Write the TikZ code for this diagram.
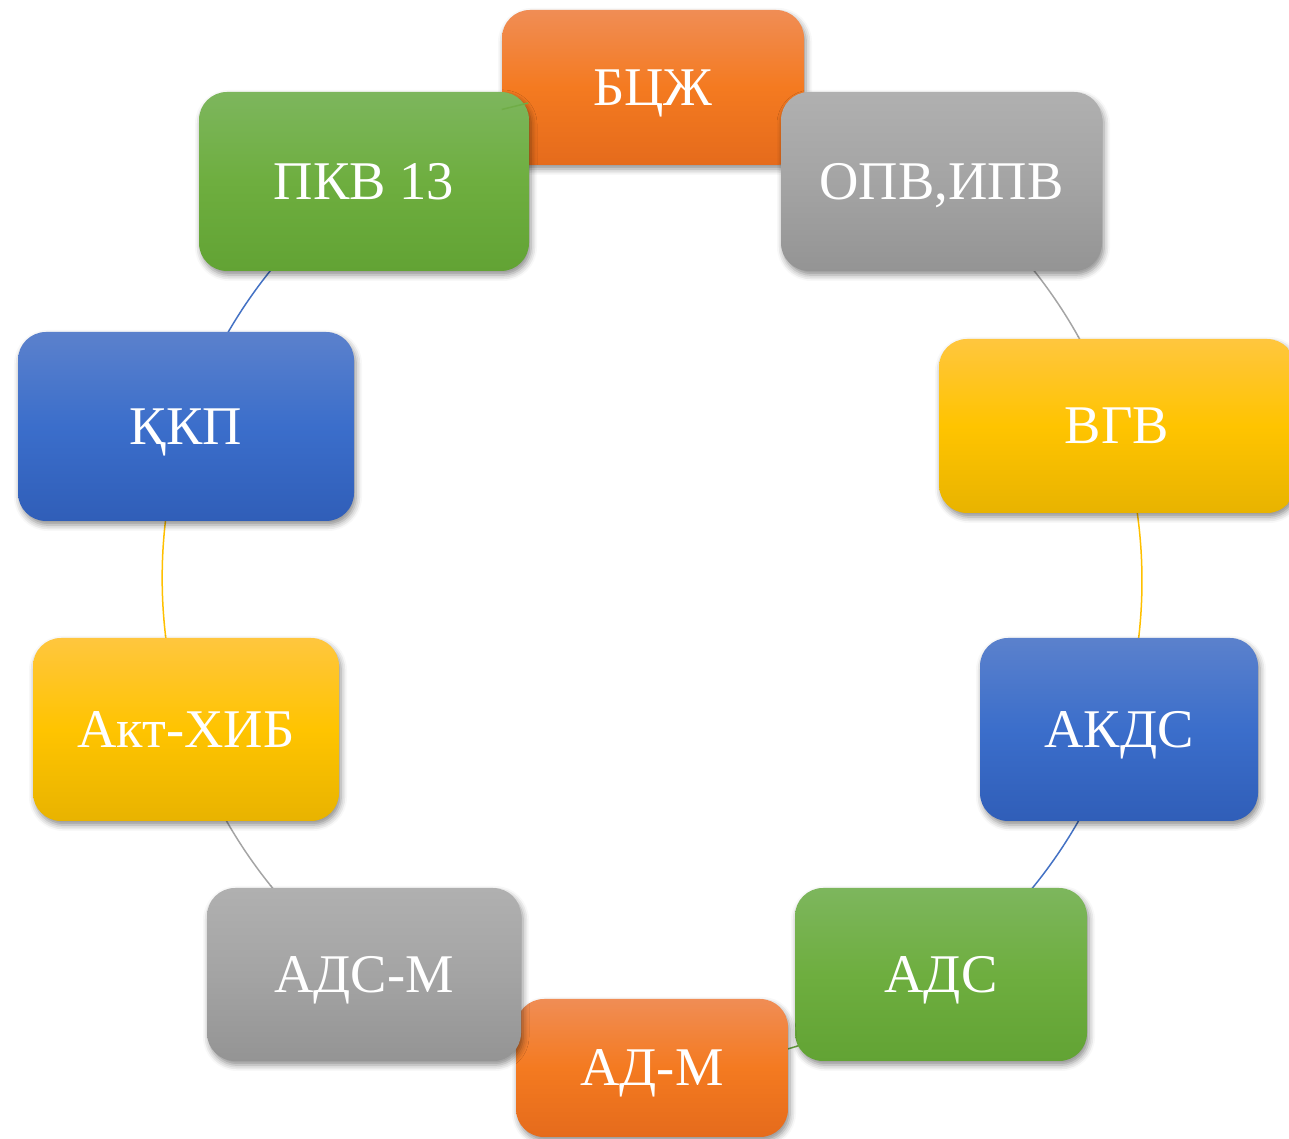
\documentclass[tikz,border=0pt]{standalone}
\usepackage{fontspec}
\setmainfont{Liberation Serif}
\usetikzlibrary{shadows.blur,backgrounds}
\definecolor{orT}{HTML}{F08D55}
\definecolor{orM}{HTML}{F47A20}
\definecolor{orB}{HTML}{E56B1C}
\definecolor{grT}{HTML}{B0B0B0}
\definecolor{grM}{HTML}{A4A4A4}
\definecolor{grB}{HTML}{949494}
\definecolor{yeT}{HTML}{FFC63E}
\definecolor{yeM}{HTML}{FFC400}
\definecolor{yeB}{HTML}{E8B300}
\definecolor{blT}{HTML}{5B81CC}
\definecolor{blM}{HTML}{3B6ECB}
\definecolor{blB}{HTML}{305EB8}
\definecolor{gnT}{HTML}{7DB65D}
\definecolor{gnM}{HTML}{6EAE3F}
\definecolor{gnB}{HTML}{62A334}
\definecolor{cBlue}{HTML}{4472C4}
\definecolor{cYellow}{HTML}{FFC000}
\definecolor{cGray}{HTML}{A5A5A5}
\definecolor{cGreen}{HTML}{70AD47}
\tikzset{
  box/.style={rectangle, rounded corners=28pt, inner sep=0pt, text=white,
    font=\fontsize{54.5}{60}\selectfont, text height=36pt, text depth=0pt,
    blur shadow={shadow xshift=2pt, shadow yshift=-4pt, shadow blur radius=6pt, shadow opacity=45}},
  orbox/.style={box, top color=orT, bottom color=orB, middle color=orM},
  grbox/.style={box, top color=grT, bottom color=grB, middle color=grM},
  yebox/.style={box, top color=yeT, bottom color=yeB, middle color=yeM},
  blbox/.style={box, top color=blT, bottom color=blB, middle color=blM},
  gnbox/.style={box, top color=gnT, bottom color=gnB, middle color=gnM},
  conn/.style={line width=1.5pt, bend left=18, looseness=0.87},
}
\begin{document}
\begin{tikzpicture}[x=1pt,y=1pt]
\useasboundingbox (0,0) rectangle (1289,1139);
\node[orbox, minimum width=302pt, minimum height=155pt] (bcz) at (653,1051.5) {БЦЖ};
\node[grbox, minimum width=321pt, minimum height=179pt] (opv) at (941.5,957.5) {ОПВ,ИПВ};
\node[yebox, minimum width=356pt, minimum height=174pt] (vgv) at (1117,713) {ВГВ};
\node[blbox, minimum width=278pt, minimum height=183pt] (akds) at (1119,409.5) {АКДС};
\node[gnbox, minimum width=292pt, minimum height=173pt] (ads) at (941,164.5) {АДС};
\node[orbox, minimum width=272pt, minimum height=138pt] (adm) at (652,71) {АД-М};
\node[grbox, minimum width=314pt, minimum height=173pt] (adsm) at (364,164.5) {АДС-М};
\node[yebox, minimum width=306pt, minimum height=183pt] (akt) at (186,409.5) {Акт-ХИБ};
\node[blbox, minimum width=336pt, minimum height=189pt] (kkp) at (186,712.5) {ҚКП};
\node[gnbox, minimum width=330pt, minimum height=179pt] (pkv) at (364,957.5) {ПКВ 13};
\begin{pgfonlayer}{background}
\draw[conn, cGray]   (opv.center)  to (vgv.center);
\draw[conn, cYellow] (vgv.center)  to (akds.center);
\draw[conn, cBlue]   (akds.center) to (ads.center);
\draw[conn, cGreen]  (ads.center)  to (adm.center);
\draw[conn, cGray]   (adsm.center) to (akt.center);
\draw[conn, cYellow] (akt.center)  to (kkp.center);
\draw[conn, cBlue]   (kkp.center)  to (pkv.center);
\end{pgfonlayer}
\draw[line width=1.5pt, cGreen] ([xshift=-1pt,yshift=78.5pt]pkv.east) -- ([yshift=-22pt]bcz.west);
\end{tikzpicture}
\end{document}
